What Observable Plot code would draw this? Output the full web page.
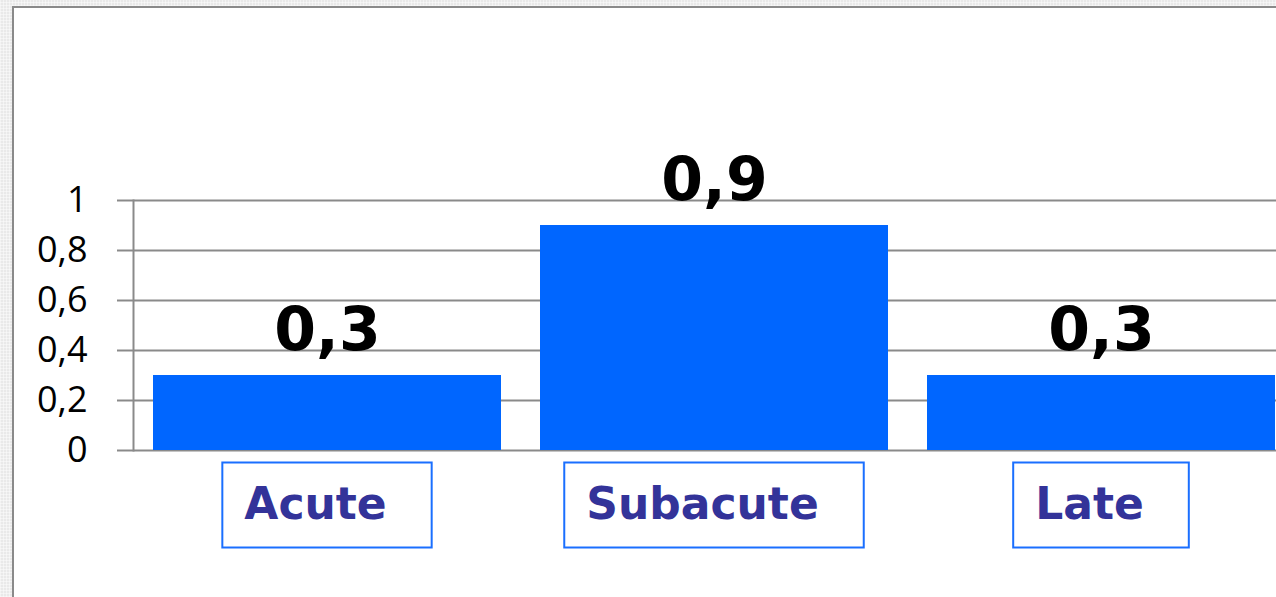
<!DOCTYPE html>
<html>
<head>
<meta charset="utf-8">
<script src="https://cdn.jsdelivr.net/npm/d3@7"></script>
<script src="https://cdn.jsdelivr.net/npm/@observablehq/plot@0.6"></script>
<style>
  html, body { margin: 0; padding: 0; width: 1276px; height: 597px; overflow: hidden; }
  body {
    background-color: #e9e9e9;
    background-image:
      repeating-linear-gradient(0deg, rgba(255,255,255,0.45) 0 1px, transparent 1px 3px),
      repeating-linear-gradient(90deg, rgba(255,255,255,0.45) 0 1px, transparent 1px 3px);
    position: relative;
  }
  #sheet {
    position: absolute; left: 12px; top: 6px; right: -10px; bottom: -10px;
    background: #fff; border-left: 2px solid #8a8a8a; border-top: 2px solid #8a8a8a;
  }
  #chart { position: absolute; left: 0; top: 0; width: 1296px; }
  #chart svg { max-width: none !important; }
</style>
</head>
<body>
<div id="sheet"></div>
<div id="chart"></div>
<script>
const categories = ["Acute", "Subacute", "Late"];
const values = [0.3, 0.9, 0.3];
const yTicks = [0, 0.2, 0.4, 0.6, 0.8, 1];

const data = categories.map((c, i) => ({category: c, value: values[i]}));
const comma = d => String(d).replace(".", ",");

const chart = Plot.plot({
  width: 1296,
  height: 597,
  marginLeft: 133,
  marginRight: 0,
  marginTop: 200,
  marginBottom: 147,
  style: {fontFamily: "'Open Sans', sans-serif", background: "transparent", overflow: "visible", color: "#000", maxWidth: "none"},
  x: {domain: categories, paddingInner: 0.1, paddingOuter: 0.05, axis: null},
  y: {domain: [0, 1], ticks: yTicks, label: null},
  marks: [
    Plot.ruleY(yTicks, {stroke: "#8a8a8a", strokeWidth: 2}),
    Plot.axisY({ticks: yTicks, tickSize: 16, tickPadding: 30, tickFormat: comma, fontSize: 36, stroke: "#8a8a8a", strokeWidth: 2, label: null}),
    Plot.frame({anchor: "left", stroke: "#8a8a8a", strokeWidth: 2}),
    Plot.barY(data, {x: "category", y: "value", fill: "#0066ff"}),
    Plot.text(data, {x: "category", y: "value", text: d => comma(d.value), lineAnchor: "bottom", dy: -26,
      fontSize: 60, fontWeight: "bold", fontFamily: "'DejaVu Sans', sans-serif", fill: "#000"}),
    Plot.text(data, {x: "category", y: () => 0, text: "category", lineAnchor: "bottom", dy: 68, dx: -12,
      fontSize: 44, fontWeight: "bold", fontFamily: "'DejaVu Sans', sans-serif", fill: "#333399",
      className: "cat-label"})
  ]
});
document.getElementById("chart").appendChild(chart);

// draw boxes around the category labels
d3.select(chart).selectAll("g.cat-label text").each(function() {
  const b = this.getBBox();
  const tr = this.getAttribute("transform");
  d3.select(this.parentNode).insert("rect", () => this)
    .attr("transform", tr)
    .attr("x", b.x - 22)
    .attr("y", b.y - 15)
    .attr("width", b.width + 67)
    .attr("height", b.height + 34)
    .attr("fill", "#fff")
    .attr("stroke", "#1a6fff")
    .attr("stroke-width", 2);
});
</script>
</body>
</html>
